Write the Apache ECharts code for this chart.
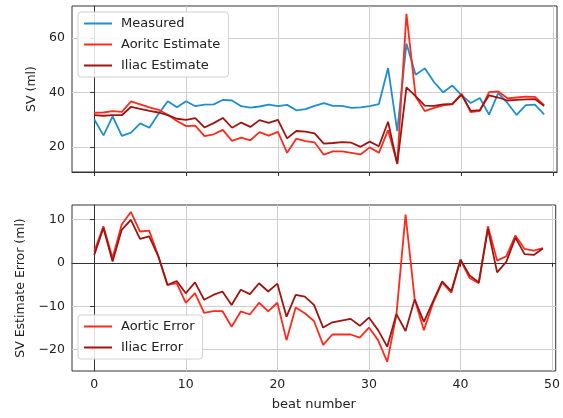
<!DOCTYPE html>
<html>
<head>
<meta charset="utf-8">
<script src="https://cdn.jsdelivr.net/npm/echarts@6/dist/echarts.min.js"></script>
<style>
html,body{margin:0;padding:0;background:#fff;}
#c{width:563px;height:418px;}
</style>
</head>
<body>
<div id="c"></div>
<script>
const beats = [0,1,2,3,4,5,6,7,8,9,10,11,12,13,14,15,16,17,18,19,20,21,22,23,24,25,26,27,28,29,30,31,32,33,34,35,36,37,38,39,40,41,42,43,44,45,46,47,48,49];

const measured = [30.0,24.2,31.2,24.0,25.2,28.6,27.0,32.1,36.7,34.5,36.7,34.9,35.5,35.6,37.2,37.0,34.9,34.4,34.8,35.5,34.9,35.4,33.4,33.8,35.0,36.0,35.0,35.0,34.3,34.5,34.9,35.7,48.9,25.8,57.9,46.5,48.8,43.8,40.0,42.5,39.0,36.1,37.9,31.8,39.7,36.1,31.7,35.3,35.5,31.9];

const aorticEstimate = [32.5,32.6,33.1,32.8,36.7,35.6,34.5,33.6,31.8,29.5,27.6,27.8,23.9,24.6,26.2,22.2,23.4,22.4,25.4,24.1,25.5,17.8,23.0,22.1,21.6,17.1,18.3,18.3,17.8,17.2,19.8,17.8,26.1,14.0,68.8,38.5,33.1,34.3,35.2,35.6,39.5,32.7,33.2,40.1,40.3,37.8,38.1,38.4,38.3,35.3];

const iliacEstimate = [31.6,31.4,31.6,31.6,34.7,33.9,33.2,32.6,31.6,30.3,29.9,30.5,27.1,28.7,30.6,27.0,28.9,27.3,29.8,28.8,29.9,23.1,25.8,25.6,24.9,21.2,21.4,21.7,21.5,20.0,21.9,20.2,29.2,13.7,41.8,38.6,35.1,35.0,35.6,35.8,39.1,33.2,33.5,38.9,38.1,37.0,37.2,37.4,37.5,35.0];

const aorticError = [2.6,8.4,1.1,8.8,11.7,7.2,7.4,1.5,-5.1,-4.7,-9.2,-7.0,-11.5,-11.1,-11.1,-14.7,-11.2,-11.9,-9.2,-11.2,-9.2,-17.8,-10.3,-11.6,-13.4,-18.9,-16.5,-16.5,-16.5,-17.2,-14.9,-17.8,-22.8,-12.0,11.1,-8.4,-15.5,-9.3,-4.5,-6.9,0.7,-3.5,-4.7,8.4,0.5,1.5,6.3,3.2,2.8,3.4];

const iliacError = [1.8,8.0,0.3,7.6,9.9,5.5,6.1,1.5,-5.1,-4.2,-7.0,-4.5,-8.5,-7.4,-6.6,-9.7,-6.2,-7.2,-4.7,-6.6,-4.8,-12.4,-7.4,-7.8,-9.7,-14.9,-13.7,-13.3,-12.9,-14.5,-12.6,-15.5,-19.3,-11.8,-15.7,-8.4,-13.6,-8.9,-4.3,-6.5,0.7,-2.9,-4.5,7.8,-2.2,0.2,5.8,2.0,1.8,3.3];

const xTicks = [0,10,20,30,40,50];
const topYTicks = [20,40,60];
const bottomYTicks = [-20,-10,0,10];

const topNames = ['Measured','Aoritc Estimate','Iliac Estimate'];
const bottomNames = ['Aortic Error','Iliac Error'];
const xTitle = 'beat number';
const topYTitle = 'SV (ml)';
const bottomYTitle = 'SV Estimate Error (ml)';

const C_BLUE = '#1f8ece';
const C_RED = '#ff2a1c';
const C_DARK = '#a01410';
const FONT = 'DejaVu Sans';
const TXT = '#222';

function pairs(v){ return beats.map((b,i)=>[b, v[i]]); }
function minus(v){ return String(v).replace('-', '\u2212'); }

function xAx(grid, labels){
  return {
    type:'value', gridIndex:grid, min:-2.43, max:50.4, splitNumber:5,
    axisLine:{show:true, lineStyle:{color:'#333', width:1}},
    axisTick:{show:true, length:4, lineStyle:{color:'#333'}, customValues:xTicks},
    axisLabel:{show:labels, color:TXT, fontFamily:FONT, fontSize:12.5, margin:7, formatter:minus, customValues:xTicks},
    splitLine:{show:true, lineStyle:{color:'#cfcfcf', width:1}},
    name: labels ? xTitle : '', nameLocation:'middle', nameGap:27,
    nameTextStyle:{color:TXT, fontFamily:FONT, fontSize:13}
  };
}
function yAx(grid, min, max, split, ticks, title, gap){
  return {
    type:'value', gridIndex:grid, min:min, max:max, splitNumber:split,
    axisLine:{show:true, lineStyle:{color:'#333', width:1}},
    axisTick:{show:true, length:4, lineStyle:{color:'#333'}, customValues:ticks},
    axisLabel:{color:TXT, fontFamily:FONT, fontSize:12.5, margin:7, formatter:minus, customValues:ticks},
    splitLine:{show:true, lineStyle:{color:'#cfcfcf', width:1}},
    name:title, nameLocation:'middle', nameGap:gap, nameRotate:90,
    nameTextStyle:{color:TXT, fontFamily:FONT, fontSize:12.5}
  };
}
function ln(name, data, color, xi, yi){
  return {name:name, type:'line', xAxisIndex:xi, yAxisIndex:yi, data:pairs(data),
    symbol:'none', showSymbol:false, lineStyle:{color:color, width:1.8}, itemStyle:{color:color},
    emphasis:{disabled:true}, z:2};
}
function leg(names, top){
  return {
    data:names, orient:'vertical', left:78, top:top,
    icon:'rect', itemWidth:28, itemHeight:2, itemGap:8,
    backgroundColor:'rgba(255,255,255,0.85)', borderColor:'#d0d0d0', borderWidth:1, borderRadius:3,
    padding:[5,8,5,6],
    textStyle:{color:TXT, fontFamily:FONT, fontSize:13, padding:[0,0,0,4]}
  };
}

const chart = echarts.init(document.getElementById('c'), null, {renderer:'canvas'});
chart.setOption({
  animation:false,
  backgroundColor:'#fff',
  grid:[
    {left:72, top:6, width:485, height:166, show:true, borderColor:'#333', borderWidth:1, backgroundColor:'transparent'},
    {left:72, top:205, width:485, height:166, show:true, borderColor:'#333', borderWidth:1, backgroundColor:'transparent'}
  ],
  xAxis:[xAx(0,false), xAx(1,true)],
  yAxis:[yAx(0,10.75,71.7,3,topYTicks,topYTitle,26), yAx(1,-24.9,13.3,4,bottomYTicks,bottomYTitle,26)],
  legend:[leg(topNames,12), leg(bottomNames,315)],
  series:[
    ln(topNames[0], measured, C_BLUE, 0, 0),
    ln(topNames[1], aorticEstimate, C_RED, 0, 0),
    ln(topNames[2], iliacEstimate, C_DARK, 0, 0),
    ln(bottomNames[0], aorticError, C_RED, 1, 1),
    ln(bottomNames[1], iliacError, C_DARK, 1, 1)
  ]
});
</script>
</body>
</html>
